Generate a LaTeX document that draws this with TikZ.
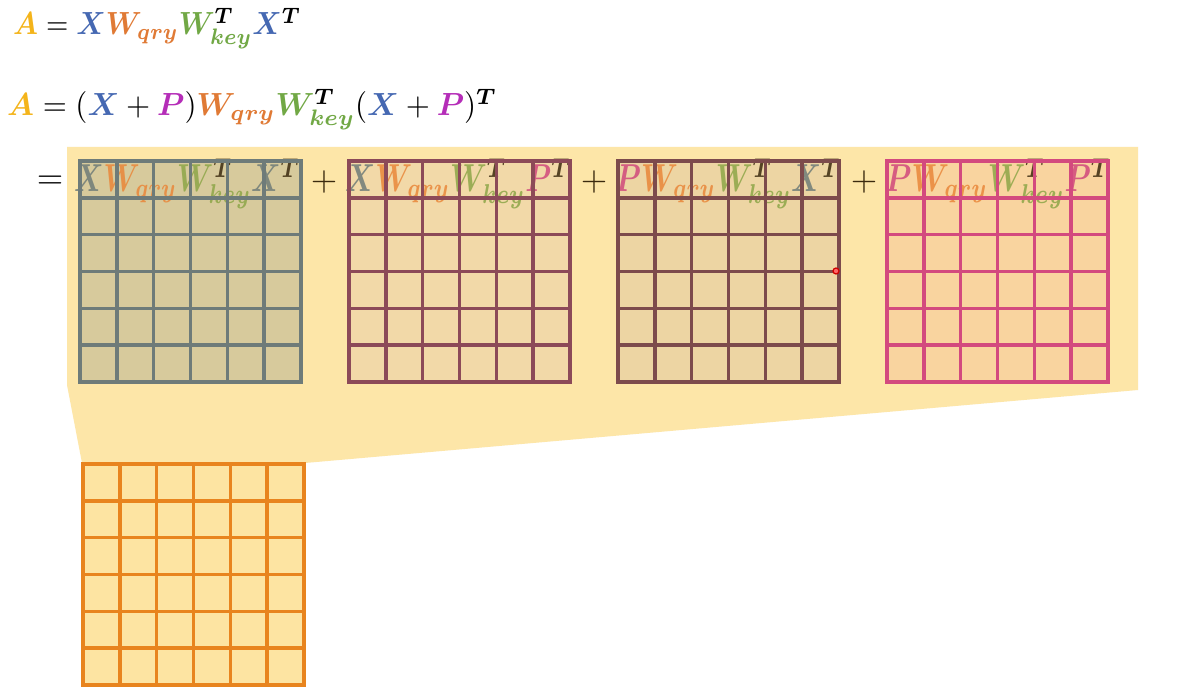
\documentclass[tikz,border=0pt]{standalone}
\usepackage{bm}
\usepackage{xcolor}
\definecolor{cA}{HTML}{F4B41A}
\definecolor{cX}{HTML}{4568B2}
\definecolor{cWq}{HTML}{E07A35}
\definecolor{cWk}{HTML}{71A845}
\definecolor{cP}{HTML}{B52DB8}
\definecolor{tX}{HTML}{6F7C78}
\definecolor{tWq}{HTML}{E9873A}
\definecolor{tWk}{HTML}{8DA648}
\definecolor{tP}{HTML}{D0487C}
\definecolor{tT}{HTML}{3B2A0E}
\definecolor{bgY}{HTML}{FDE6A8}
\definecolor{fa}{HTML}{D7CA9C}\definecolor{sa}{HTML}{6E7B79}
\definecolor{fb}{HTML}{F2D9A8}\definecolor{sb}{HTML}{8C4A58}
\definecolor{fc}{HTML}{EDD5A3}\definecolor{sc}{HTML}{7D4B4C}
\definecolor{fd}{HTML}{F9D49F}\definecolor{sd}{HTML}{D34A7E}
\definecolor{fe}{HTML}{FDE4A2}\definecolor{se}{HTML}{E8841E}
% colour changes in scripts kept inside an inner group
\newcommand\Wkey[2]{\color{#1}\bm{W}^{{\color{#2}\bm{T}}}_{\bm{key}}}
\newcommand\Wqry[1]{\color{#1}\bm{W}_{\bm{qry}}}
\newcommand\trm[4]{\resizebox{226pt}{\height}{\scalebox{3.9}{$\color{#1}\bm{#2}\Wqry{tWq}\Wkey{tWk}{tT}\color{#3}\bm{#4}^{{\color{tT}\bm{T}}}$}}}
\tikzset{
  eq/.style={inner sep=0pt, anchor=base west},
  termtxt/.style={inner sep=0pt, anchor=base west, text opacity=0.85},
  gridline/.style={line width=3.4pt, line cap=rect}
}
\newcommand\mgrid[4]{% x0 y0 fill stroke
  \fill[#3] (#1,#2) rectangle ++(221,221);
}
\newcommand\mlines[3]{%
  \foreach \i in {0,...,6}{
    \draw[gridline,#3] ({#1+\i*221/6},#2) -- ++(0,221);
    \draw[gridline,#3] (#1,{#2+\i*221/6}) -- ++(221,0);
  }
}
\begin{document}
\begin{tikzpicture}[x=1pt,y=-1pt]
\useasboundingbox (0,0) rectangle (1183,692);
\fill[white] (0,0) rectangle (1183,692);
% yellow band
\fill[bgY] (67,147) -- (1138,147) -- (1138,390) -- (305,463) -- (82,463) -- (67,385) -- cycle;
% formulas
\node[eq] (l1) at (13,35) {\resizebox{288pt}{\height}{\scalebox{3.2}{$\color{cA}\bm{A}\color{black}=\color{cX}\bm{X}\Wqry{cWq}\Wkey{cWk}{black}\color{cX}\bm{X}^{{\color{black}\bm{T}}}$}}};
\node[eq] (l2) at (7,116) {\resizebox{490pt}{\height}{\scalebox{3.2}{$\color{cA}\bm{A}\color{black}=(\color{cX}\bm{X}\color{black}+\color{cP}\bm{P}\color{black})\Wqry{cWq}\Wkey{cWk}{black}\color{black}(\color{cX}\bm{X}\color{black}+\color{cP}\bm{P}\color{black})^{\bm{T}}$}}};
\node[eq, anchor=center] (eqs) at (50,182) {\scalebox{3.4}{$=$}};
% matrices fills
\mgrid{80}{161}{fa}{sa}
\mgrid{349}{161}{fb}{sb}
\mgrid{618}{161}{fc}{sc}
\mgrid{887}{161}{fd}{sd}
\mgrid{83}{464}{fe}{se}
% term texts
\node[termtxt] (t1) at (74,192) {\trm{tX}{X}{tX}{X}};
\node[termtxt] (t2) at (345,192) {\trm{tX}{X}{tP}{P}};
\node[termtxt] (t3) at (615,192) {\trm{tP}{P}{tX}{X}};
\node[termtxt] (t4) at (885,192) {\trm{tP}{P}{tP}{P}};
\node[eq, anchor=center, text=tT] (p1) at (324,182) {\scalebox{3.4}{$+$}};
\node[eq, anchor=center, text=tT] (p2) at (594,182) {\scalebox{3.4}{$+$}};
\node[eq, anchor=center, text=tT] (p3) at (864,182) {\scalebox{3.4}{$+$}};
% grid lines
\mlines{80}{161}{sa}
\mlines{349}{161}{sb}
\mlines{618}{161}{sc}
\mlines{887}{161}{sd}
\mlines{83}{464}{se}
% pointer dot
\draw[red!80!black, line width=1.2pt, fill=red!60] (836,271) circle (3);
\end{tikzpicture}
\end{document}
